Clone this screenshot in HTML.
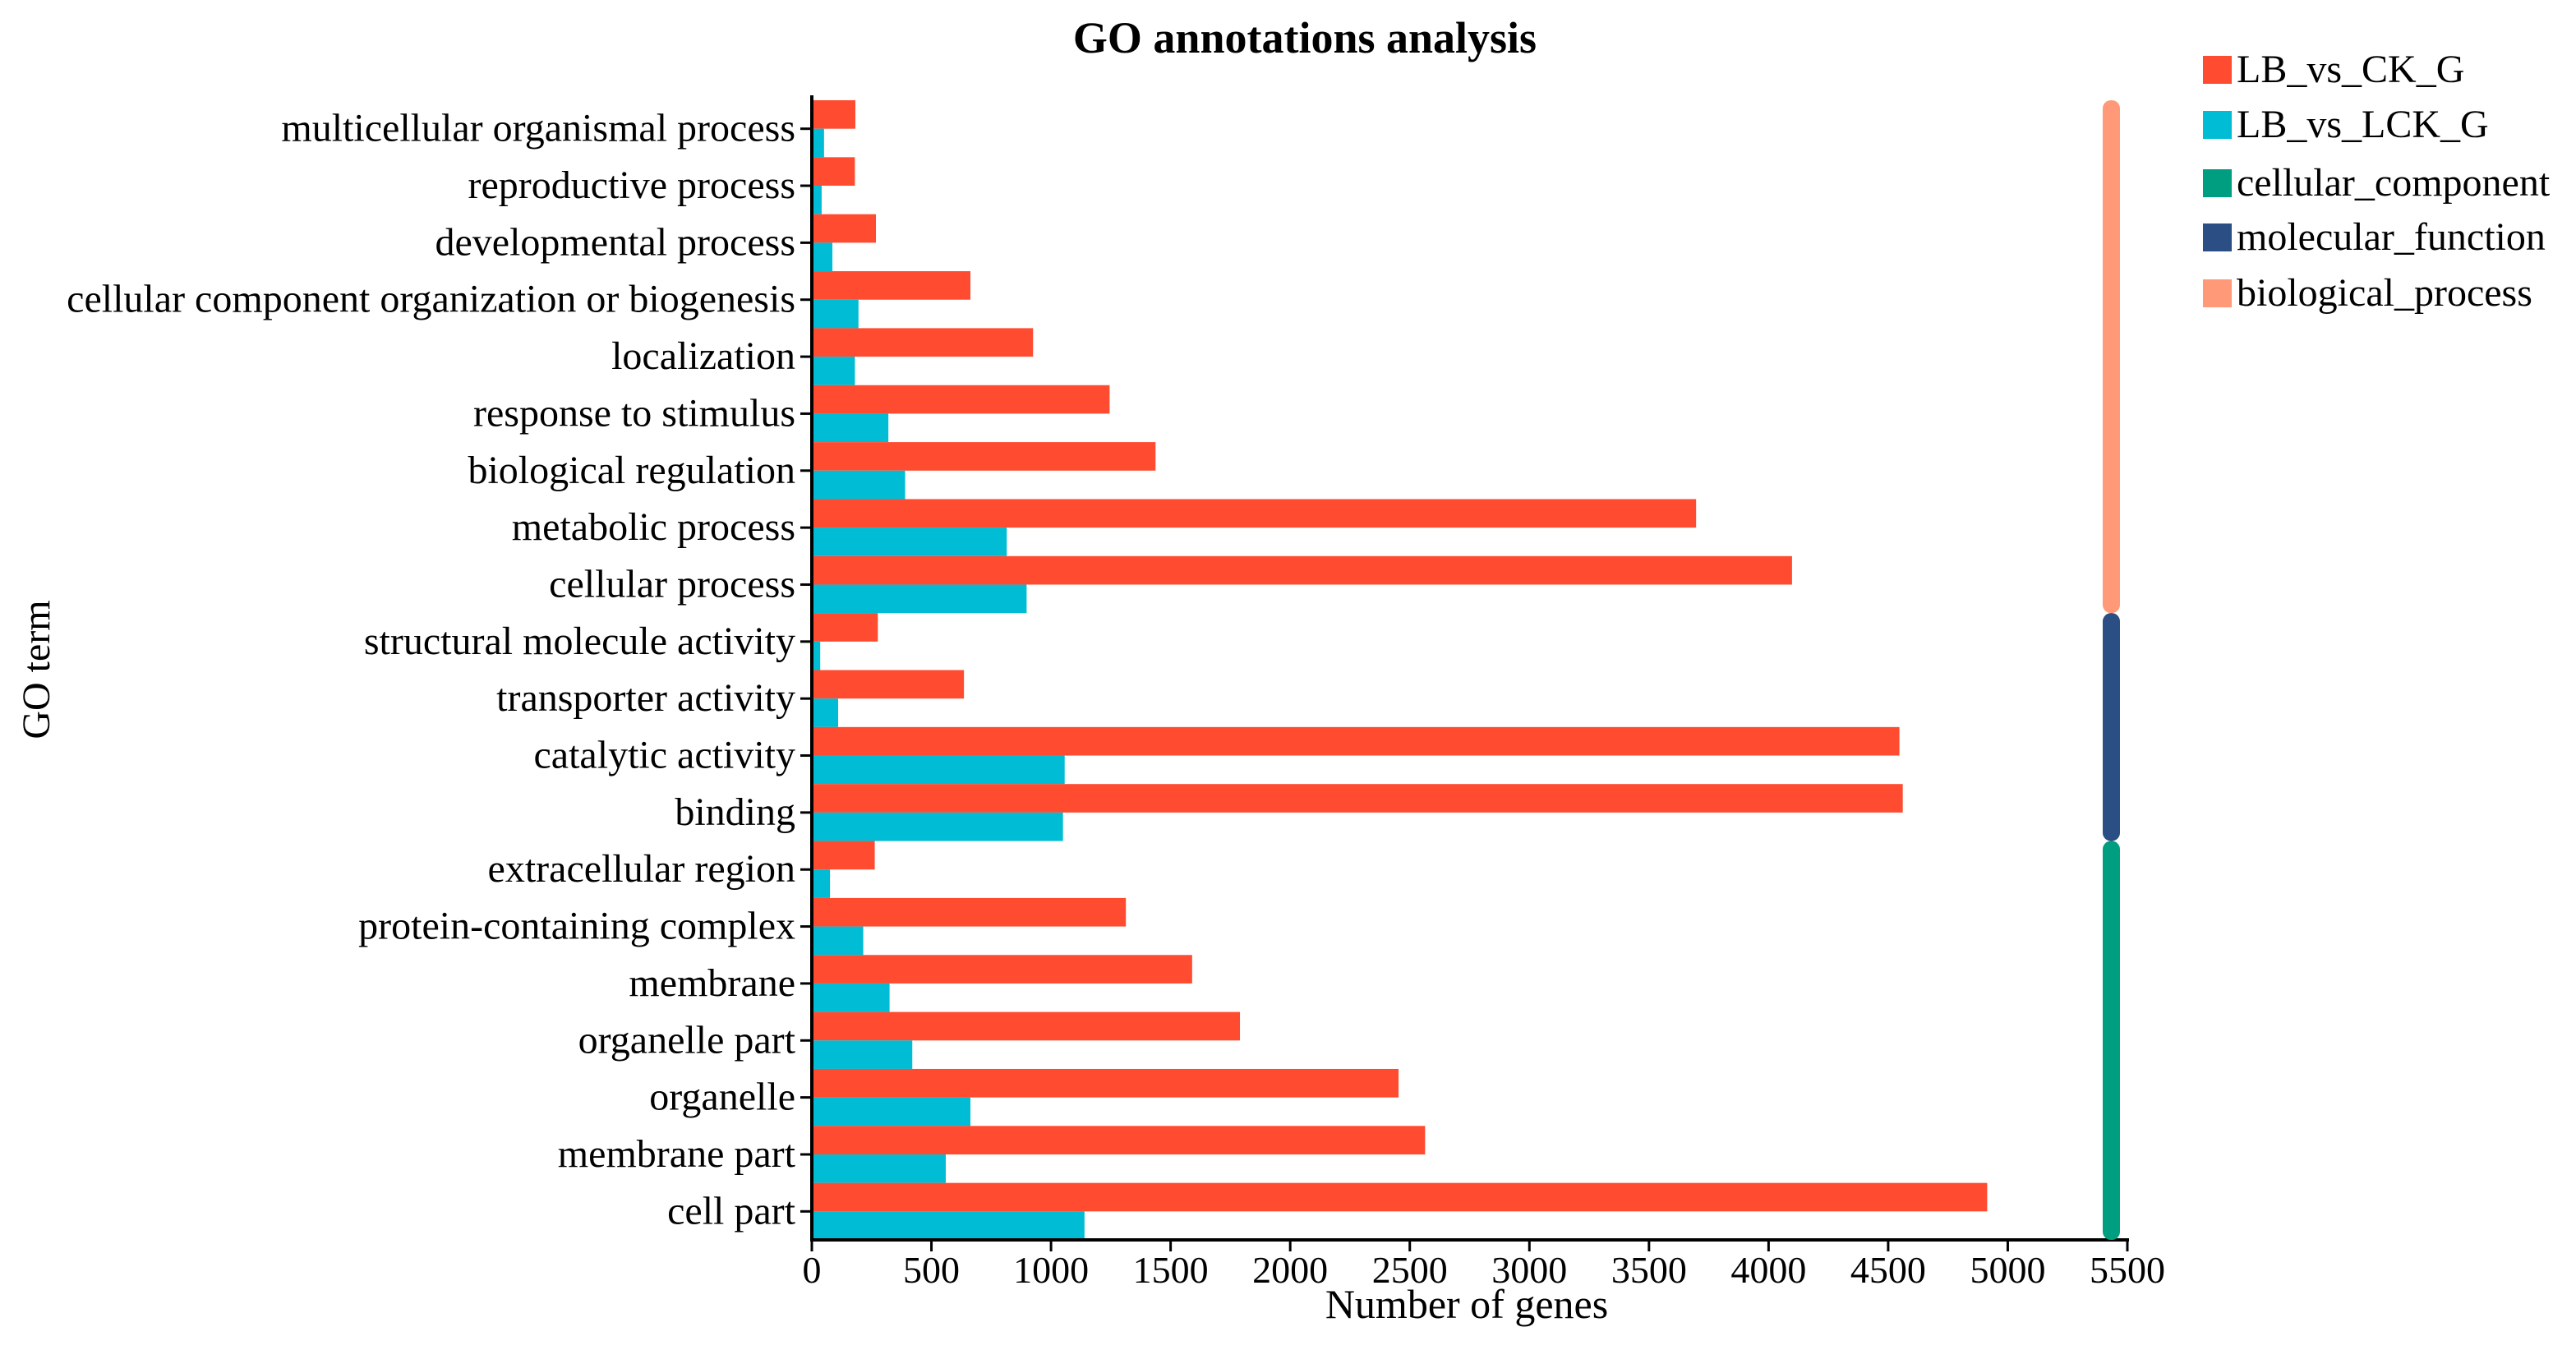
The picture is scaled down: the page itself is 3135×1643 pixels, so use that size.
<!DOCTYPE html>
<html><head><meta charset="utf-8"><style>
html,body{margin:0;padding:0;background:#fff;}
svg{display:block;}
svg text{font-family:"Liberation Serif",serif;}
</style></head><body>
<svg id="chart" width="3135" height="1643" viewBox="0 0 3135 1643">
<text x="1588" y="64" text-anchor="middle" font-size="54" font-weight="bold">GO annotations analysis</text>
<text transform="translate(60,815) rotate(-90)" text-anchor="middle" font-size="48">GO term</text>
<text x="1785" y="1604" text-anchor="middle" font-size="50">Number of genes</text>
<g id="plot"></g>
<g id="legend"></g>
</svg>
<script>
const categories = ["multicellular organismal process","reproductive process","developmental process","cellular component organization or biogenesis","localization","response to stimulus","biological regulation","metabolic process","cellular process","structural molecule activity","transporter activity","catalytic activity","binding","extracellular region","protein-containing complex","membrane","organelle part","organelle","membrane part","cell part"];
const seriesCK = [182,180,268,663,925,1245,1437,3697,4098,276,636,4547,4561,263,1313,1590,1790,2453,2564,4914];
const seriesLCK = [51,41,86,195,180,320,390,815,898,35,110,1057,1050,76,215,325,420,663,560,1140];
const groupNames = ["biological_process","molecular_function","cellular_component"];
const groupCounts = [9,4,7];
const xTicks = [0,500,1000,1500,2000,2500,3000,3500,4000,4500,5000,5500];
const NS="http://www.w3.org/2000/svg";
const X0=988,X1=2589,XMAX=5500,YTOP=122,YBOT=1509;
const rowH=(YBOT-YTOP)/categories.length;
const xs=v=>X0+v/XMAX*(X1-X0);
const ys=i=>YTOP+i*rowH;
const colors={ck:"#ff4b30",lck:"#00bcd4",biological_process:"#ff9977",molecular_function:"#2b4f84",cellular_component:"#009e80"};
const plot=document.getElementById('plot');
function mk(tag,attrs,parent){const e=document.createElementNS(NS,tag);for(const k in attrs)e.setAttribute(k,attrs[k]);(parent||plot).appendChild(e);return e;}
categories.forEach((c,i)=>{
  const y=ys(i);
  let r=mk('rect',{x:X0,y:y,width:xs(seriesCK[i])-X0,height:rowH/2,fill:colors.ck});
  
  
  let r2=mk('rect',{x:X0,y:y+rowH/2,width:xs(seriesLCK[i])-X0,height:rowH/2,fill:colors.lck});
  
  
  let t=mk('line',{x1:X0-14,x2:X0,y1:y+rowH/2,y2:y+rowH/2,stroke:"#000","stroke-width":3});
  
  
  let l=mk('text',{x:X0-20,y:y+rowH/2+15,'text-anchor':'end','font-size':48});
  l.textContent=c;
  
  
});
let ax=mk('line',{x1:X0,x2:X0,y1:YTOP-6,y2:YBOT,stroke:"#000","stroke-width":4});


let bx=mk('line',{x1:X0-2,x2:X1+2,y1:YBOT,y2:YBOT,stroke:"#000","stroke-width":4});


xTicks.forEach(v=>{
  let t=mk('line',{x1:xs(v),x2:xs(v),y1:YBOT,y2:YBOT+14,stroke:"#000","stroke-width":3});
  
  
  let l=mk('text',{x:xs(v),y:YBOT+52,'text-anchor':'middle','font-size':46});
  l.textContent=v;
  
  
});
let start=0;
groupNames.forEach((g,gi)=>{
  const y0=ys(start),y1=ys(start+groupCounts[gi]);
  let s=mk('rect',{x:2559,y:y0,width:21,height:y1-y0,rx:10,ry:10,fill:colors[g]});
  
  
  start+=groupCounts[gi];
});
const legend=document.getElementById('legend');
const legItems=[["LB_vs_CK_G",colors.ck],["LB_vs_LCK_G",colors.lck],["cellular_component",colors.cellular_component],["molecular_function",colors.molecular_function],["biological_process",colors.biological_process]];
const legY=[85,152,223,289,357];
legItems.forEach((it,i)=>{
  let s=mk('rect',{x:2681,y:legY[i]-17,width:35,height:34,fill:it[1]},legend);
  
  
  let t=mk('text',{x:2722,y:legY[i]+15,'font-size':48,'font-family':'Liberation Serif, serif'},legend);
  t.textContent=it[0];
  
  
});
</script>
</body></html>
